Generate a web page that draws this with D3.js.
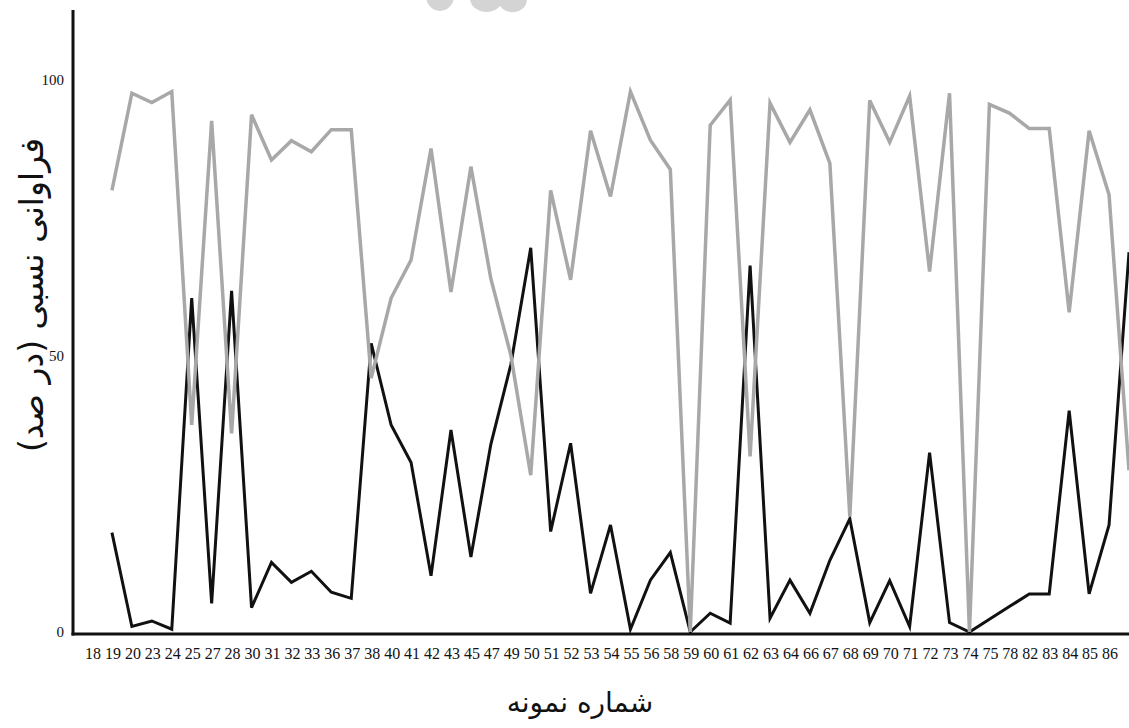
<!DOCTYPE html>
<html>
<head>
<meta charset="utf-8">
<script src="https://cdn.jsdelivr.net/npm/d3@7"></script>
<style>
  html, body { margin: 0; padding: 0; background: #fff; }
  svg { display: block; }
</style>
</head>
<body>
<svg id="chart" width="1129" height="728"></svg>
<script>
// Category labels on the x axis (sample numbers)
const categories = [18,19,20,23,24,25,27,28,30,31,32,33,36,37,38,40,41,42,43,45,47,49,50,51,52,53,54,55,56,58,59,60,61,62,63,64,66,67,68,69,70,71,72,73,74,75,78,82,83,84,85,86];

// Black series (relative frequency, %)
const seriesBlack = [18,1,2,0.5,60.5,5.2,61.8,4.4,12.6,9,11,7.2,6.1,52.3,37.5,30.7,10.2,36.6,13.6,34,48.4,69.6,18.2,34.2,7,19.4,0.5,9.4,14.4,0,3.4,1.6,66.4,2.5,9.4,3.4,13,20.5,1.7,9.3,1,32.5,1.7,0,2.3,4.6,6.9,6.9,40.1,6.9,19.4,68.8];

// Grey series (relative frequency, %)
const seriesGrey = [80,97.6,95.9,97.9,37.5,92.6,36,93.7,85.5,89,87,91,91,46,60.5,67.4,87.6,61.6,84.3,64,50.2,28.4,80,63.8,90.8,78.9,97.9,89.1,83.8,0,91.8,96.4,31.8,95.8,88.7,94.6,84.9,20.9,96.3,88.7,97.1,65.3,97.6,0,95.6,94,91.2,91.2,57.9,90.8,79.2,29.3];

const yTicks = [0, 50, 100];
const yTitle = "فراوانی نسبی (در صد)";
const xTitle = "شماره نمونه";

const svg = d3.select("#chart");

// faint watermark remnant at the top edge
const wm = svg.append("g").attr("fill", "#d4d4d4");
wm.append("ellipse").attr("cx", 440).attr("cy", -4).attr("rx", 14).attr("ry", 15);
wm.append("path").attr("d", "M470,0 L527,0 Q526,10 515,12 Q505,13 500,6 Q495,12 485,12 Q472,10 470,0 Z");

const axisX0 = 73, axisY0 = 634;
// point positions: labels at 0..51, data points at 1..52
const x = d3.scalePoint()
  .domain(d3.range(categories.length + 1))
  .range([92, 1129]);

const y = d3.scaleLinear()
  .domain([0, 100])
  .range([632, 80]);

const line = d3.line()
  .x((d, i) => x(i + 1))
  .y(d => y(d));

// Black line
svg.append("path")
  .datum(seriesBlack)
  .attr("fill", "none")
  .attr("stroke", "#111")
  .attr("stroke-width", 3)
  .attr("stroke-linejoin", "miter")
  .attr("d", line);

// Grey line
svg.append("path")
  .datum(seriesGrey)
  .attr("fill", "none")
  .attr("stroke", "#a8a8a8")
  .attr("stroke-width", 3.5)
  .attr("stroke-linejoin", "miter")
  .attr("d", line);

// Axes lines
svg.append("line")
  .attr("x1", axisX0).attr("x2", axisX0)
  .attr("y1", 10).attr("y2", axisY0 + 1.5)
  .attr("stroke", "#111").attr("stroke-width", 3);
svg.append("line")
  .attr("x1", axisX0 - 1.5).attr("x2", 1129)
  .attr("y1", axisY0).attr("y2", axisY0)
  .attr("stroke", "#111").attr("stroke-width", 3);

// Y tick labels
svg.append("g")
  .selectAll("text")
  .data(yTicks)
  .join("text")
  .attr("x", 64)
  .attr("y", d => y(d))
  .attr("dy", "0.35em")
  .attr("text-anchor", "end")
  .attr("font-family", "Liberation Serif, serif")
  .attr("font-size", 15)
  .attr("fill", "#111")
  .text(d => d);

// X tick labels
svg.append("g")
  .selectAll("text")
  .data(categories)
  .join("text")
  .attr("x", (d, i) => x(i) + 1)
  .attr("y", 659)
  .attr("text-anchor", "middle")
  .attr("font-family", "Liberation Serif, serif")
  .attr("font-size", 16)
  .attr("fill", "#111")
  .text(d => d);

// Axis titles
svg.append("text")
  .attr("transform", "translate(33,295) rotate(-90)")
  .attr("text-anchor", "middle")
  .attr("dominant-baseline", "middle")
  .attr("font-family", "DejaVu Sans, sans-serif")
  .attr("font-size", 33)
  .attr("fill", "#111")
  .attr("direction", "rtl")
  .text(yTitle);

svg.append("text")
  .attr("x", 580)
  .attr("y", 712)
  .attr("text-anchor", "middle")
  .attr("font-family", "DejaVu Sans, sans-serif")
  .attr("font-size", 28)
  .attr("fill", "#111")
  .attr("direction", "rtl")
  .text(xTitle);
</script>
</body>
</html>
